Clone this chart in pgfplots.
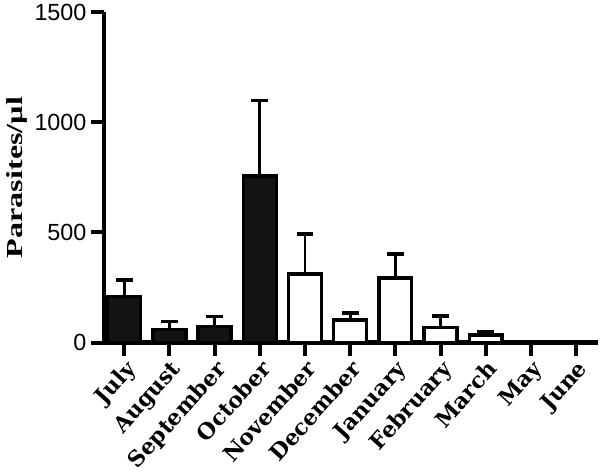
\documentclass[border=0pt]{standalone}
\usepackage{pgfplots}
\pgfplotsset{compat=1.18}
\usepackage{fontspec}
\setmainfont{Liberation Serif}
\newfontfamily\arialf{Liberation Sans}
\newfontfamily\xlabf{DejaVu Serif}
\begin{document}
\begin{tikzpicture}
\begin{axis}[
  scale only axis,
  width=247.5pt, height=165.5pt,
  xmin=-0.45, xmax=10.48,
  ymin=0, ymax=1500,
  axis x line=bottom, axis y line=left,
  axis line style={-, line width=2.2pt},
  xtick={0,...,10},
  xticklabels={July,August,September,October,November,December,January,February,March,May,June},
  ytick={0,500,1000,1500},
  tick align=outside,
  xtick style={line width=2pt, black},
  ytick style={line width=2pt, black},
  x tick label style={rotate=48, anchor=north east, font=\xlabf\bfseries\fontsize{11}{12}\selectfont, inner sep=1pt},
  y tick label style={font=\arialf\fontsize{11.7}{13}\selectfont, inner sep=2pt},
  major tick length=6.5pt,
  /pgf/number format/assume math mode=true,
  /pgf/number format/1000 sep={},
  ylabel={\scalebox{1.4}[1]{\textbf{Parasites/µl}}},
  ylabel style={font=\fontsize{11.5}{13}\selectfont, yshift=-2pt},
  ybar, bar width=16.5pt, bar shift=0pt,
  error bars/y dir=plus, error bars/y explicit,
  error bars/error bar style={line width=1.4pt, black},
  error bars/error mark options={rotate=90, mark size=4.2pt, line width=1.8pt, black},
  clip=false,
]
\addplot[draw=black, fill=black!92, line width=1.7pt] coordinates {
  (0,208) +- (0,77)
  (1,59) +- (0,36)
  (2,72) +- (0,46)
  (3,756) +- (0,343)
};
\addplot[draw=black, fill=white, line width=1.7pt] coordinates {
  (4,311) +- (0,181)
  (5,103) +- (0,30)
  (6,294) +- (0,108)
  (7,68) +- (0,53)
  (8,35) +- (0,12)
  (9,3) +- (0,2)
  (10,3) +- (0,2)
};
\end{axis}
\end{tikzpicture}
\end{document}
